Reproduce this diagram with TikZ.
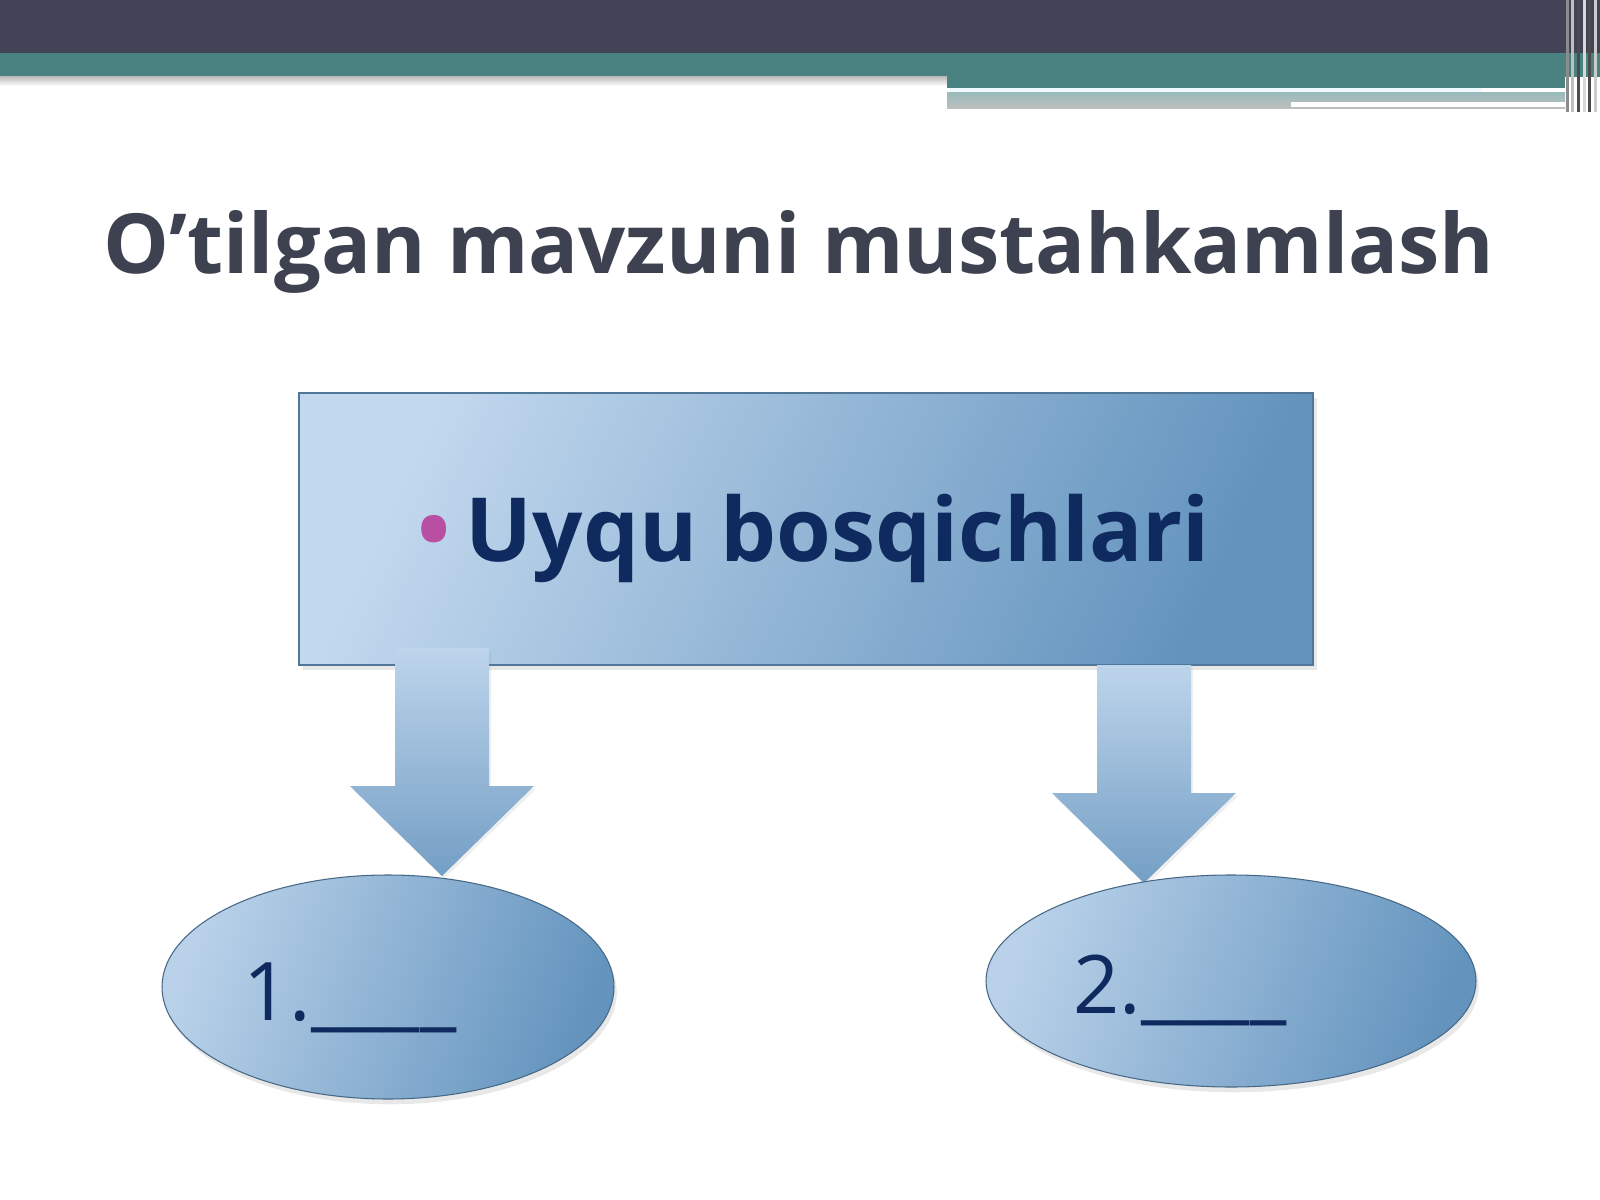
\documentclass[tikz,border=0pt]{standalone}
\usepackage{fontspec}
\setmainfont{Open Sans}
\usepackage{xcolor}
\usetikzlibrary{shapes,calc,shadows}

\definecolor{barDark}{HTML}{434358}
\definecolor{barTeal}{HTML}{4A8282}
\definecolor{titleGray}{HTML}{3E4150}
\definecolor{navy}{HTML}{0F2A5E}
\definecolor{bulletPink}{HTML}{B84FA3}
\definecolor{blueLight}{HTML}{C2D8EE}
\definecolor{blueDark}{HTML}{6494BE}

\begin{document}
\begin{tikzpicture}[x=0.1mm,y=-0.1mm]
            \tikzset{block/.style = {rectangle, draw=blueDark!80!black, line width=0.3pt,
                       top color=blueLight, bottom color=blueDark, shading angle=65,
                       drop shadow={opacity=0.18, shadow xshift=1pt, shadow yshift=-1.5pt}}}
            \tikzset{oval/.style = {ellipse, inner sep=0pt, draw=blueDark!70!black, line width=0.3pt,
                       top color=blueLight!90!blueDark, bottom color=blueDark, shading angle=70,
                       drop shadow={opacity=0.18, shadow xshift=0.8pt, shadow yshift=-1.5pt}}}
            \tikzset{arrowfill/.style = {top color=blueLight!95!blueDark, bottom color=blueDark!90!white,
                       drop shadow={opacity=0.12, shadow xshift=0.6pt, shadow yshift=-0.8pt}}}
            \tikzset{blank/.style = {font=\fontsize{23}{27}\selectfont, text=navy, inner sep=0pt}}

            \useasboundingbox (0,0) rectangle (1600,1200);
            \fill[white] (0,0) rectangle (1600,1200);

            % header bars
            \fill[barDark] (0,0) rectangle (1600,53);
            \fill[barTeal] (0,53) rectangle (1600,77);
            \shade[top color=black!25, bottom color=white] (0,77) rectangle (947,86);
            \fill[barTeal] (947,77) rectangle (1565,88);
            \fill[cyan!6] (950,88) rectangle (1482,93);
            \shade[top color=barTeal!55!white, bottom color=black!25!white] (947,93) rectangle (1565,109);
            \fill[white] (1291,102) rectangle (1565,107);
            \foreach \x/\c in {1566/black!45, 1571/black!25, 1577/black!70, 1583/black!15, 1588/black!70, 1594/black!20}
            {
              \fill[\c] (\x,0) rectangle ++(3,112);
            }

            % title
            \node[font=\fontsize{23.6}{28}\selectfont\bfseries, text=titleGray, anchor=base] (title) at (799,273)
              {O’tilgan mavzuni mustahkamlash};

            % vertices
            \node[block, minimum width=101.4mm, minimum height=27.2mm] (box) at (806,529) {};
            \node[font=\fontsize{25.2}{30}\selectfont\bfseries, text=navy, anchor=base, inner sep=0pt] (boxtext) at (814,561)
              {{\color{bulletPink}•}\,Uyqu bosqichlari};

            \coordinate (a1) at (442,648);
            \coordinate (t1) at (442,876);
            \coordinate (a2) at (1144,665);
            \coordinate (t2) at (1144,883);

            % edges
            \foreach \s/\t in {a1/t1,a2/t2}
            {
              \path[arrowfill] ($(\s)+(-47,0)$) -- ($(\s)+(47,0)$) -- ($(\t)+(47,-90)$) -- ($(\t)+(92,-90)$)
                -- (\t) -- ($(\t)+(-92,-90)$) -- ($(\t)+(-47,-90)$) -- cycle;
            }

            \node[oval, minimum width=45.2mm, minimum height=22.4mm] (ell1) at (388,987) {};
            \node[oval, minimum width=49mm, minimum height=21.2mm] (ell2) at (1231,981) {};
            \node[blank, anchor=base] (lbl1) at (350,1020) {1.\_\_\_\_};
            \node[blank, anchor=base] (lbl2) at (1180,1013) {2.\_\_\_\_};

          \end{tikzpicture}
\end{document}
